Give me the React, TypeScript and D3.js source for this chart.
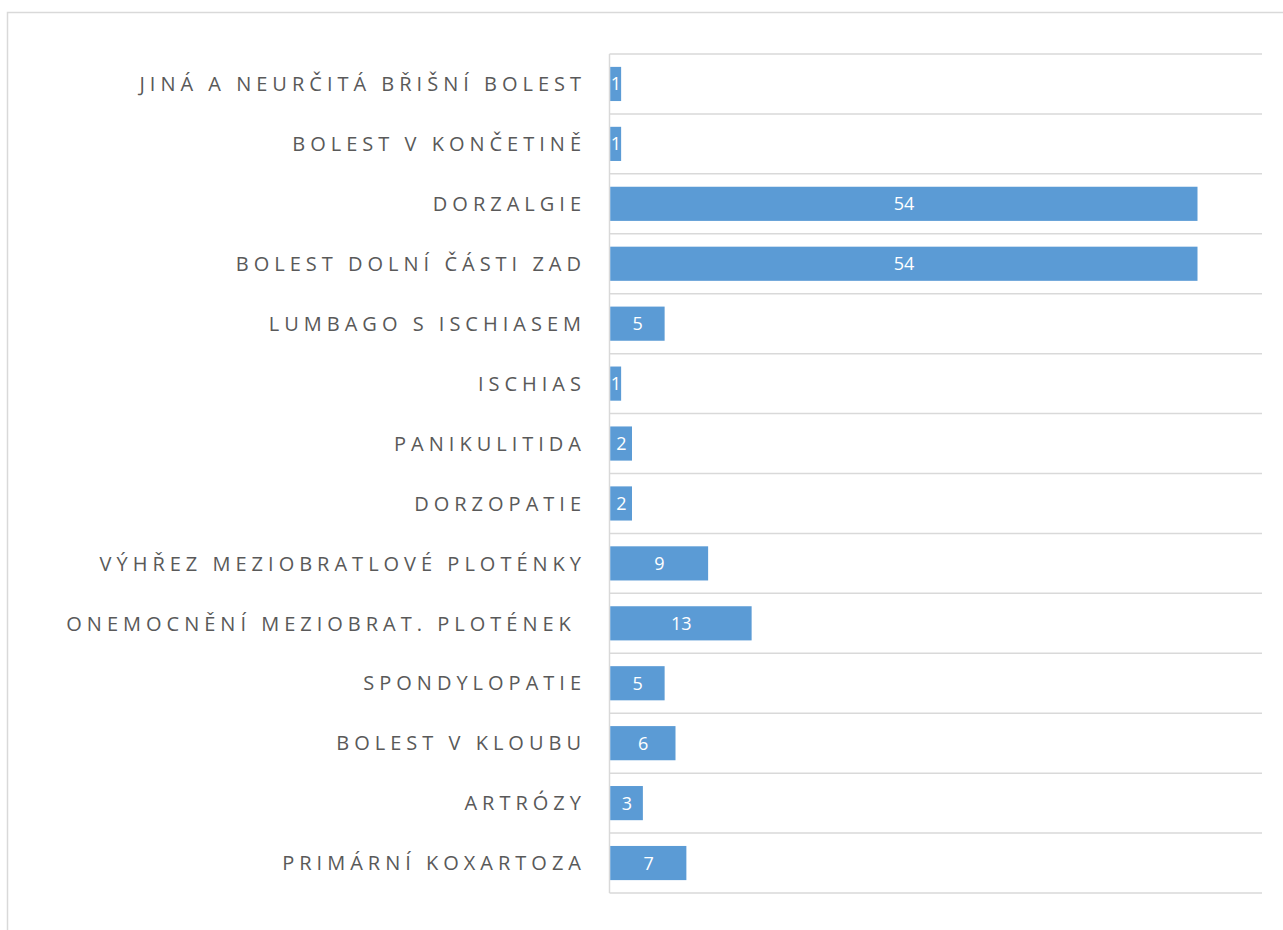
import React from "react";
import * as d3 from "d3";

const categories = [
  "JINÁ A NEURČITÁ BŘIŠNÍ BOLEST",
  "BOLEST V KONČETINĚ",
  "DORZALGIE",
  "BOLEST DOLNÍ ČÁSTI ZAD",
  "LUMBAGO S ISCHIASEM",
  "ISCHIAS",
  "PANIKULITIDA",
  "DORZOPATIE",
  "VÝHŘEZ MEZIOBRATLOVÉ PLOTÉNKY",
  "ONEMOCNĚNÍ MEZIOBRAT. PLOTÉNEK ",
  "SPONDYLOPATIE",
  "BOLEST V KLOUBU",
  "ARTRÓZY",
  "PRIMÁRNÍ KOXARTOZA",
];

const values = [1, 1, 54, 54, 5, 1, 2, 2, 9, 13, 5, 6, 3, 7];

const xDomain = [0, 60];

const W = 1283;
const H = 930;
const left = 609.5;
const right = 1262;
const top = 54;
const bottom = 893;

const App = () => {
  const x = d3.scaleLinear().domain(xDomain).range([left, right]);
  const rows = d3.scaleBand().domain(categories).range([top, bottom]);
  const y = d3
    .scaleBand()
    .domain(categories)
    .range([top, bottom])
    .paddingInner(0.43)
    .paddingOuter(0.215);

  const gridY = d3.range(categories.length + 1).map((i) => top + i * rows.step());

  return (
    <svg
      width={W}
      height={H}
      style={{ position: "absolute", left: 0, top: 0, background: "#fff" }}
    >
      <rect x={7.5} y={12.5} width={1300} height={940} fill="#fff" stroke="#d9d9d9" strokeWidth={1.5} />

      {gridY.map((gy, i) => (
        <line key={i} x1={left} x2={right} y1={gy} y2={gy} stroke="#d9d9d9" strokeWidth={1.5} />
      ))}
      <line x1={left} x2={left} y1={top} y2={bottom} stroke="#d9d9d9" strokeWidth={1.5} />

      {categories.map((c, i) => (
        <g key={c}>
          <rect
            x={x(0) + 0.75}
            y={y(c)}
            width={x(values[i]) - x(0)}
            height={y.bandwidth()}
            fill="#5b9bd5"
          />
          <text
            x={(x(0) + x(values[i])) / 2 + 1}
            y={y(c)! + y.bandwidth() / 2}
            dy="0.36em"
            textAnchor="middle"
            fill="#fff"
            fontFamily="'Open Sans', sans-serif"
            fontSize={18}
          >
            {values[i]}
          </text>
          <text
            x={586}
            y={rows(c)! + rows.bandwidth() / 2}
            dy="0.36em"
            textAnchor="end"
            fill="#595959"
            fontFamily="'Open Sans', sans-serif"
            fontSize={20}
            letterSpacing={5}
            style={{ whiteSpace: "pre" }}
          >
            {c}
          </text>
        </g>
      ))}
    </svg>
  );
};

export default App;
